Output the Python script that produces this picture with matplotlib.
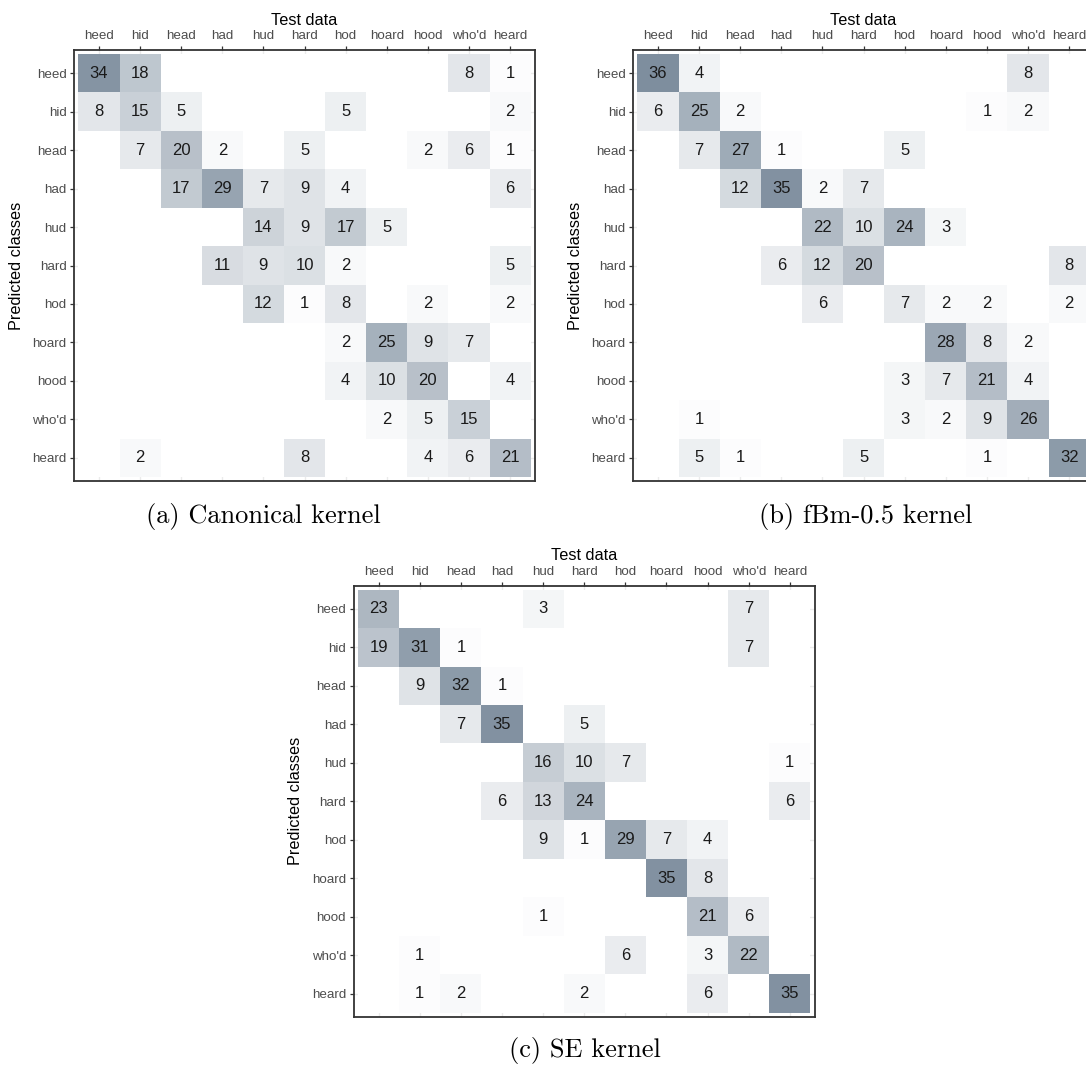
import matplotlib
matplotlib.use("Agg")
import matplotlib.pyplot as plt
import numpy as np
from matplotlib.colors import LinearSegmentedColormap

# vowel classes (rows = predicted, columns = test data)
classes = ["heed", "hid", "head", "had", "hud", "hard", "hod", "hoard", "hood", "who'd", "heard"]

canonical = [
    [34, 18, 0, 0, 0, 0, 0, 0, 0, 8, 1],
    [8, 15, 5, 0, 0, 0, 5, 0, 0, 0, 2],
    [0, 7, 20, 2, 0, 5, 0, 0, 2, 6, 1],
    [0, 0, 17, 29, 7, 9, 4, 0, 0, 0, 6],
    [0, 0, 0, 0, 14, 9, 17, 5, 0, 0, 0],
    [0, 0, 0, 11, 9, 10, 2, 0, 0, 0, 5],
    [0, 0, 0, 0, 12, 1, 8, 0, 2, 0, 2],
    [0, 0, 0, 0, 0, 0, 2, 25, 9, 7, 0],
    [0, 0, 0, 0, 0, 0, 4, 10, 20, 0, 4],
    [0, 0, 0, 0, 0, 0, 0, 2, 5, 15, 0],
    [0, 2, 0, 0, 0, 8, 0, 0, 4, 6, 21],
]

fbm05 = [
    [36, 4, 0, 0, 0, 0, 0, 0, 0, 8, 0],
    [6, 25, 2, 0, 0, 0, 0, 0, 1, 2, 0],
    [0, 7, 27, 1, 0, 0, 5, 0, 0, 0, 0],
    [0, 0, 12, 35, 2, 7, 0, 0, 0, 0, 0],
    [0, 0, 0, 0, 22, 10, 24, 3, 0, 0, 0],
    [0, 0, 0, 6, 12, 20, 0, 0, 0, 0, 8],
    [0, 0, 0, 0, 6, 0, 7, 2, 2, 0, 2],
    [0, 0, 0, 0, 0, 0, 0, 28, 8, 2, 0],
    [0, 0, 0, 0, 0, 0, 3, 7, 21, 4, 0],
    [0, 1, 0, 0, 0, 0, 3, 2, 9, 26, 0],
    [0, 5, 1, 0, 0, 5, 0, 0, 1, 0, 32],
]

se = [
    [23, 0, 0, 0, 3, 0, 0, 0, 0, 7, 0],
    [19, 31, 1, 0, 0, 0, 0, 0, 0, 7, 0],
    [0, 9, 32, 1, 0, 0, 0, 0, 0, 0, 0],
    [0, 0, 7, 35, 0, 5, 0, 0, 0, 0, 0],
    [0, 0, 0, 0, 16, 10, 7, 0, 0, 0, 1],
    [0, 0, 0, 6, 13, 24, 0, 0, 0, 0, 6],
    [0, 0, 0, 0, 9, 1, 29, 7, 4, 0, 0],
    [0, 0, 0, 0, 0, 0, 0, 35, 8, 0, 0],
    [0, 0, 0, 0, 1, 0, 0, 0, 21, 6, 0],
    [0, 1, 0, 0, 0, 0, 6, 0, 3, 22, 0],
    [0, 1, 2, 0, 0, 2, 0, 0, 6, 0, 35],
]

captions = ["(a) Canonical kernel", "(b) fBm-0.5 kernel", "(c) SE kernel"]

W, H = 1086, 1068
fig = plt.figure(figsize=(W / 100, H / 100), dpi=100)

cmap = LinearSegmentedColormap.from_list("slate", ["#ffffff", "#778899"])
sans = ["Liberation Sans", "DejaVu Sans"]


def heatmap(left, top, mat, caption, cap_x, cap_y):
    w, h = 460.5, 431
    ax = fig.add_axes([left / W, 1 - (top + h) / H, w / W, h / H])
    m = np.array(mat)
    n = len(classes)
    ax.pcolormesh(np.arange(n + 1) - 0.5, np.arange(n + 1) - 0.5, m,
                  cmap=cmap, vmin=0, vmax=38, zorder=1)
    for i in range(n):
        for j in range(n):
            if m[i, j] > 0:
                ax.text(j, i, str(m[i, j]), ha="center", va="center",
                        fontsize=12, color="#1a1a1a", family=sans, zorder=3)
    ax.set_xlim(-0.6, n - 0.4)
    ax.set_ylim(n - 0.4, -0.6)
    ax.set_xticks(range(n))
    ax.set_yticks(range(n))
    ax.set_xticklabels(classes, family=sans, fontsize=9.6, color="#4d4d4d")
    ax.set_yticklabels(classes, family=sans, fontsize=9.6, color="#4d4d4d")
    ax.xaxis.tick_top()
    ax.xaxis.set_label_position("top")
    ax.tick_params(length=3.2, width=0.9, color="#333333", pad=2.5)
    ax.set_axisbelow(True)
    ax.grid(True, color="#ebebeb", lw=1.0)
    for s in ax.spines.values():
        s.set_color("#333333")
        s.set_linewidth(1.3)
        s.set_zorder(4)
    ax.set_xlabel("Test data", family=sans, fontsize=11.7, labelpad=4)
    ax.set_ylabel("Predicted classes", family=sans, fontsize=11.7, labelpad=6)
    fig.text(cap_x / W, 1 - cap_y / H, caption, family="cmr10", fontsize=19,
             ha="center", va="center")
    return ax


heatmap(74.3, 50, canonical, captions[0], 263, 517)
heatmap(633.3, 50, fbm05, captions[1], 866, 517)
heatmap(354, 585.7, se, captions[2], 585, 1050)

fig.savefig("out.png", dpi=100)
